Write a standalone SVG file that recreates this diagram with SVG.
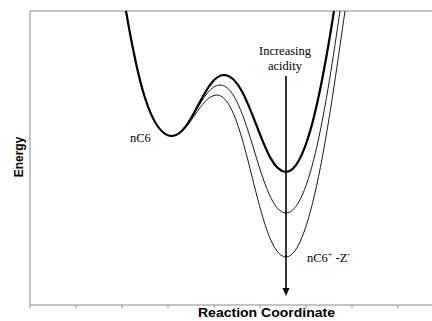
<svg xmlns="http://www.w3.org/2000/svg" width="432" height="321" viewBox="0 0 432 321">
<style>
.frame{fill:none;stroke:#8a8a8a;stroke-width:1}
.thick{fill:none;stroke:#000;stroke-width:2.2;stroke-linejoin:round}
.thin{fill:none;stroke:#000;stroke-width:0.9}
.lbl{font-family:"Liberation Serif","Times New Roman",serif;font-size:12.5px;fill:#000}
.ax{font-family:"Liberation Sans",Arial,sans-serif;font-size:12px;font-weight:bold;fill:#000}
</style>
<rect width="432" height="321" fill="#fff"/>
<g id="axes">
<path class="frame" d="M30,305 V11 H432 M30,305 H432"/>
<path class="frame" d="M30,305v3 M76,305v3 M122,305v3 M168,305v3 M214,305v3 M260,305v3 M306,305v3 M352,305v3 M398,305v3"/>
<text class="ax" x="0" y="0" transform="translate(23,157) rotate(-90)" text-anchor="middle">Energy</text>
<text class="ax" x="198" y="317" textLength="137" lengthAdjust="spacingAndGlyphs">Reaction Coordinate</text>
</g>
<g id="connectors">
<path id="curve-strong" class="thick" d="M126,11 C137,75 150,136 172,136 C192,136 204,75 224,75 C250,75 262,172 286,172 C305,172 320,100 334,11"/>
<path id="curve-mid" class="thin" d="M126,11 C137,75 150,136 172,136 C190,136 202,85 220,85 C248,85 260,213 286,213 C310,213 327,100 340,11"/>
<path id="curve-low" class="thin" d="M126,11 C137,75 150,136 172,136 C189,136 200,95 217,95 C246,95 258,257 286,257 C312,257 332,100 345,11"/>
<g id="arrow">
<line x1="286" y1="76" x2="286" y2="290" stroke="#000" stroke-width="1.6"/>
<polygon points="282.5,288 289.5,288 286,296" fill="#000"/>
</g>
</g>
<g id="label-acidity">
<text class="lbl" x="285" y="55" text-anchor="middle">Increasing</text>
<text class="lbl" x="285" y="70" text-anchor="middle">acidity</text>
</g>
<g id="node-nC6">
<text class="lbl" x="130" y="142">nC6</text>
</g>
<g id="node-ion-pair">
<text class="lbl" x="307" y="262">nC6<tspan dy="-5" font-size="8">+</tspan><tspan dy="5"> -Z</tspan><tspan dy="-5" font-size="8">-</tspan></text>
</g>
</svg>
